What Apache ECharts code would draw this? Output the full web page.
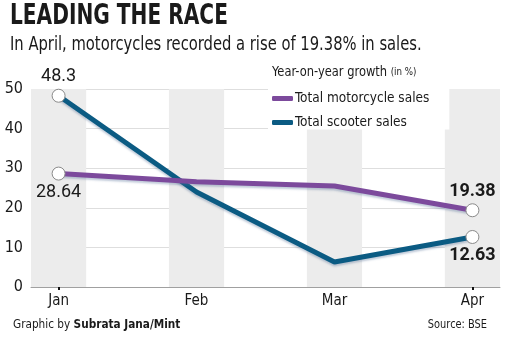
<!DOCTYPE html>
<html>
<head>
<meta charset="utf-8">
<style>
  html, body { margin: 0; padding: 0; background: #fff; }
  #chart { width: 511px; height: 340px; }
</style>
<script src="https://cdn.jsdelivr.net/npm/echarts@6/dist/echarts.min.js"></script>
</head>
<body>
<div id="chart"></div>
<script>
// Year-on-year growth of two-wheeler sales (in %)
const months = ['Jan', 'Feb', 'Mar', 'Apr'];
const motorcycleSales = [28.64, 26.6, 25.5, 19.38];
const scooterSales = [48.3, 24.0, 6.3, 12.63];
const yTicks = [0, 10, 20, 30, 40, 50];

const COND = '"DejaVu Sans Condensed", "DejaVu Sans", sans-serif';
const NUM = 'Roboto, "Liberation Sans", sans-serif';
const INK = '#1a1a1a';
const PURPLE = '#7c4a9c';
const BLUE = '#0b5b83';

// Points at the ends carry a white marker and a value label
function buildPoints(values, firstPos, lastPos) {
  const last = values.length - 1;
  return values.map((v, i) => {
    const endpoint = i === 0 || i === last;
    return {
      value: [i, v],
      symbol: endpoint ? 'circle' : 'none',
      itemStyle: endpoint ? { color: '#fff', borderColor: '#8a8a8a', borderWidth: 1 } : undefined,
      label: {
        show: endpoint,
        position: i === 0 ? firstPos : lastPos,
        distance: 3,
        fontFamily: NUM,
        fontSize: 18,
        fontWeight: i === last ? 'bold' : 'normal',
        color: INK,
        formatter: String(v)
      }
    };
  });
}

// Grey column bands behind each month
const bands = months.map((m, i) => [{ xAxis: i - 0.2 }, { xAxis: i + 0.2 }]);

function lineSeries(name, color, values, firstPos, lastPos, z) {
  return {
    name: name,
    type: 'line',
    symbolSize: 13,
    itemStyle: { color: color },
    lineStyle: { color: color, width: 5, shadowColor: 'rgba(80,110,150,0.35)', shadowBlur: 2, shadowOffsetY: 2 },
    z: z,
    data: buildPoints(values, firstPos, lastPos)
  };
}

const chart = echarts.init(document.getElementById('chart'), null, { renderer: 'canvas' });
const motorcycle = lineSeries('Total motorcycle sales', PURPLE, motorcycleSales, 'bottom', 'top', 3);
motorcycle.markArea = { silent: true, itemStyle: { color: '#ececec' }, data: bands };
const scooter = lineSeries('Total scooter sales', BLUE, scooterSales, 'top', 'bottom', 2);

chart.setOption({
  animation: false,
  backgroundColor: '#fff',
  graphic: [
    {
      type: 'text', x: 10, y: 3, scaleX: 0.8,
      style: { text: 'LEADING THE RACE', font: 'bold 28px ' + COND, fill: INK }
    },
    {
      type: 'text', x: 10, y: 35, scaleX: 0.82,
      style: { text: 'In April, motorcycles recorded a rise of 19.38% in sales.', font: '20px ' + COND, fill: INK }
    },
    {
      type: 'text', x: 272, y: 65, scaleX: 0.88,
      style: {
        text: '{a|Year-on-year growth }{b|(in %)}',
        rich: {
          a: { font: '14.5px ' + COND, fill: INK },
          b: { font: '11px ' + COND, fill: INK }
        }
      }
    },
    {
      type: 'text', x: 13, y: 318, scaleX: 0.9,
      style: {
        text: '{a|Graphic by }{b|Subrata Jana/Mint}',
        rich: {
          a: { font: '13px ' + COND, fill: INK },
          b: { font: 'bold 13px ' + COND, fill: INK }
        }
      }
    },
    {
      type: 'text', x: 487, y: 318, scaleX: 0.84,
      style: { text: 'Source: BSE', font: '13px ' + COND, fill: INK, align: 'right' }
    }
  ],
  legend: {
    left: 268, top: 89,
    orient: 'vertical',
    itemWidth: 21, itemHeight: 5, itemGap: 10,
    padding: [2.5, 20, 0, 4],
    backgroundColor: '#fff',
    icon: 'roundRect',
    textStyle: { fontFamily: COND, fontSize: 13.5, color: INK, padding: [0, 0, 0, -3] },
    data: ['Total motorcycle sales', 'Total scooter sales']
  },
  grid: { left: 31, right: 11, top: 89, bottom: 53, containLabel: false },
  xAxis: {
    type: 'value',
    min: -0.2, max: 3.2,
    splitLine: { show: false },
    axisLine: { show: true, lineStyle: { color: '#a0a0a0', width: 1 } },
    axisTick: { show: true, customValues: [0, 3], length: 3, lineStyle: { color: '#111', width: 2 } },
    axisLabel: {
      customValues: [0, 1, 2, 3],
      formatter: v => months[Math.round(v)],
      fontFamily: COND, fontSize: 15, color: INK, margin: 7
    }
  },
  yAxis: {
    type: 'value',
    min: yTicks[0], max: yTicks[yTicks.length - 1], interval: 10,
    axisLine: { show: false },
    axisTick: { show: false },
    splitLine: { lineStyle: { color: '#dedede', width: 1 } },
    axisLabel: { fontFamily: COND, fontSize: 16, color: INK, margin: 8 }
  },
  series: [motorcycle, scooter]
});
</script>
</body>
</html>
